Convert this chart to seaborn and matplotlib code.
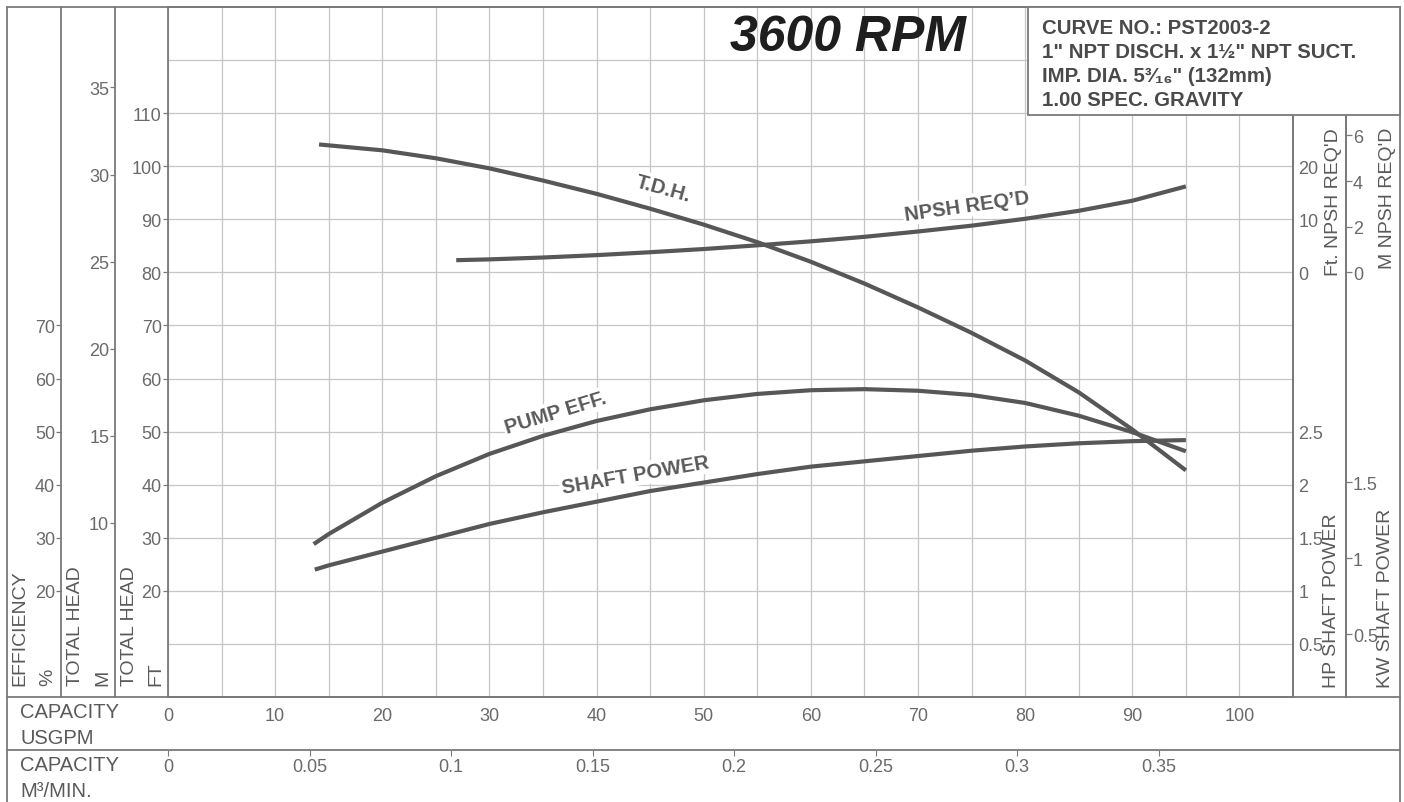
"""
Pump performance curve, PST2003-2 @ 3600 RPM.
T.D.H., NPSH req'd, pump efficiency and shaft power vs. capacity.
"""

import matplotlib
matplotlib.use("Agg")
import matplotlib.pyplot as plt
from matplotlib.lines import Line2D
from matplotlib.patches import Rectangle
import seaborn as sns

# ---- data --------------------------------------------------------------
gpm_tdh = [14.1, 20, 25, 30, 35, 40, 45, 50, 55, 60, 65, 70, 75, 80, 85, 90, 95]
tdh_ft = [104.1, 103.0, 101.5, 99.6, 97.3, 94.8, 92.0, 89.0, 85.7, 82.0,
          77.9, 73.4, 68.6, 63.4, 57.4, 50.4, 42.7]

gpm_npsh = [26.9, 30, 35, 40, 45, 50, 55, 60, 65, 70, 75, 80, 85, 90, 95]
npsh_ft = [2.3, 2.45, 2.8, 3.25, 3.8, 4.4, 5.1, 5.85, 6.7, 7.7, 8.8, 10.1,
           11.6, 13.5, 16.2]

gpm_eff = [13.6, 15, 20, 25, 30, 35, 40, 45, 50, 55, 60, 65, 70, 75, 80, 85, 90, 95]
eff_pct = [28.8, 30.7, 36.6, 41.6, 45.8, 49.2, 52.0, 54.2, 55.9, 57.1, 57.8,
           58.0, 57.7, 56.9, 55.4, 53.0, 49.9, 46.3]

gpm_hp = [13.7, 15, 20, 25, 30, 35, 40, 45, 50, 55, 60, 65, 70, 75, 80, 85, 90, 95]
shaft_hp = [1.20, 1.24, 1.37, 1.50, 1.63, 1.74, 1.84, 1.94, 2.02, 2.10, 2.17,
            2.22, 2.27, 2.32, 2.36, 2.39, 2.41, 2.42]

usgpm_ticks = [0, 10, 20, 30, 40, 50, 60, 70, 80, 90, 100]
m3min_ticks = [0, 0.05, 0.1, 0.15, 0.2, 0.25, 0.3, 0.35]
m3min_labels = ["0", "0.05", "0.1", "0.15", "0.2", "0.25", "0.3", "0.35"]
ft_ticks = [20, 30, 40, 50, 60, 70, 80, 90, 100, 110]
m_ticks = [10, 15, 20, 25, 30, 35]
eff_ticks = [20, 30, 40, 50, 60, 70]
npsh_ft_ticks = [0, 10, 20]
npsh_m_ticks = [0, 2, 4, 6]
hp_ticks = [0.5, 1, 1.5, 2, 2.5]
hp_labels = ["0.5", "1", "1.5", "2", "2.5"]
kw_ticks = [0.5, 1, 1.5]
kw_labels = ["0.5", "1", "1.5"]

info_lines = [
    "CURVE NO.: PST2003-2",
    "1\" NPT DISCH. x 1\u00bd\" NPT SUCT.",
    "IMP. DIA. 5\u00b3\u2044\u2081\u2086\" (132mm)",
    "1.00 SPEC. GRAVITY",
]

# ---- style ---------------------------------------------------------------
sns.set_theme(style="white")
plt.rcParams["font.family"] = ["Liberation Sans", "DejaVu Sans"]

CURVE = "#575757"
GRID = "#c6c6c6"
FRAME = "#7a7a7a"
TXT = "#5a5a5a"
TICK = "#6a6a6a"

W, H = 1404, 803


def fx(px):
    return px / W


def fy(py):
    return 1 - py / H


fig = plt.figure(figsize=(W / 100, H / 100), dpi=100)
fig.patch.set_facecolor("white")

# main grid area: x 168..1293 px, y 8..698 px
ax = fig.add_axes([fx(168), fy(698), (1293 - 168) / W, (698 - 8) / H])
ax.set_xlim(0, 105)
ax.set_ylim(0, 130)

for s in ax.spines.values():
    s.set_color(FRAME)
    s.set_linewidth(1.3)

ax.set_xticks(usgpm_ticks)
ax.set_xticks([t + 5 for t in usgpm_ticks], minor=True)
ax.tick_params(axis="x", which="both", length=0, pad=7.5,
               labelsize=13, labelcolor=TICK)
ax.set_yticks(ft_ticks)
ax.set_yticks([10, 120], minor=True)
ax.tick_params(axis="y", which="major", length=3.5, width=0.9, color=FRAME,
               pad=1, labelsize=13, labelcolor=TICK)
ax.tick_params(axis="y", which="minor", length=0)
ax.grid(True, which="both", color=GRID, linewidth=0.9)
ax.set_axisbelow(True)

# left columns: total head in metres, efficiency
sec_m = ax.secondary_yaxis(-0.0467, functions=(lambda f: f / 3.281,
                                                lambda m: m * 3.281))
sec_m.set_yticks(m_ticks)
sec_eff = ax.secondary_yaxis(-0.0947, functions=(lambda v: v, lambda v: v))
sec_eff.set_yticks(eff_ticks)
for sec in (sec_m, sec_eff):
    sec.spines["left"].set_color(FRAME)
    sec.spines["left"].set_linewidth(1.3)
    sec.tick_params(length=3.5, width=0.9, color=FRAME, pad=1,
                    labelsize=13, labelcolor=TICK)

# bottom row: capacity in m3/min
sec_x = ax.secondary_xaxis(-0.0768, functions=(lambda g: g / 264.17,
                                               lambda m: m * 264.17))
sec_x.set_xticks(m3min_ticks, labels=m3min_labels)
sec_x.spines["bottom"].set_visible(False)
sec_x.tick_params(length=4, width=0.8, color=FRAME, pad=2,
                  labelsize=13, labelcolor=TICK)

line_kw = dict(color=CURVE, linewidth=3, sort=False, estimator=None,
               solid_joinstyle="round", solid_capstyle="butt")

# curves on the main (ft / %) scale
sns.lineplot(x=gpm_tdh, y=tdh_ft, ax=ax, zorder=4, **line_kw)
sns.lineplot(x=gpm_eff, y=eff_pct, ax=ax, zorder=4, **line_kw)

# NPSH on its own scale (0 ft sits on the 80 ft grid line)
ax_npsh = ax.twinx()
ax_npsh.set_ylim(-80, 50)
sns.lineplot(x=gpm_npsh, y=npsh_ft, ax=ax_npsh, **line_kw)
ax_npsh.set_yticks(npsh_ft_ticks)
ax_npsh.tick_params(axis="y", length=0, pad=4, labelsize=13, labelcolor=TICK)

sec_npsh_m = ax_npsh.secondary_yaxis(1.0471, functions=(lambda f: f / 4.3,
                                                         lambda m: m * 4.3))
sec_npsh_m.set_yticks(npsh_m_ticks)

# shaft power on its own scale
ax_hp = ax.twinx()
ax_hp.set_ylim(0, 6.5)
sns.lineplot(x=gpm_hp, y=shaft_hp, ax=ax_hp, **line_kw)
ax_hp.set_yticks(hp_ticks, labels=hp_labels)
ax_hp.tick_params(axis="y", length=0, pad=4, labelsize=13, labelcolor=TICK)

sec_kw = ax_hp.secondary_yaxis(1.0471, functions=(lambda h: 0.7 * h + 0.085,
                                                   lambda k: (k - 0.085) / 0.7))
sec_kw.set_yticks(kw_ticks, labels=kw_labels)

for tw in (ax_npsh, ax_hp):
    tw.set_ylabel("")
    for name, s in tw.spines.items():
        s.set_visible(name == "right")
        s.set_color(FRAME)
        s.set_linewidth(1.3)
for sec in (sec_npsh_m, sec_kw):
    sec.spines["right"].set_color(FRAME)
    sec.spines["right"].set_linewidth(1.3)
    sec.tick_params(length=4, width=0.9, color=FRAME, pad=1,
                    labelsize=13, labelcolor=TICK)

# curve labels
lab = dict(fontsize=14.5, fontweight="bold", color=TXT, ha="center",
           va="center", rotation_mode="anchor", zorder=3,
           bbox=dict(facecolor="white", edgecolor="none", pad=1.5))
ax.text(46.2, 95.9, "T.D.H.", rotation=-15.5, **lab)
ax.text(74.6, 92.6, "NPSH REQ\u2019D", rotation=8, **lab)
ax.text(36.2, 53.6, "PUMP EFF.", rotation=17, **lab)
ax.text(43.6, 41.9, "SHAFT POWER", rotation=10, **lab)

# frame lines spanning the whole sheet
frame_lines = [
    ((7, 7), (8, 803)),
    ((1400, 1400), (8, 803)),
    ((7, 1400), (8, 8)),
    ((7, 1400), (698, 698)),
    ((7, 1400), (751, 751)),
]
for xs, ys in frame_lines:
    fig.add_artist(Line2D([fx(v) for v in xs], [fy(v) for v in ys],
                          color=FRAME, linewidth=1.3))

# info box (top right)
fig.add_artist(Rectangle((fx(1028), fy(115.7)), (1400 - 1028) / W,
                         (115.7 - 8) / H, facecolor="white",
                         edgecolor=FRAME, linewidth=1.3, zorder=5))
for line, py in zip(info_lines, [29, 53, 77, 100]):
    fig.text(fx(1042), fy(py), line, fontsize=14.7, fontweight="bold",
             color="#4a4a4a", ha="left", va="center", zorder=6,
             family=["Liberation Sans", "DejaVu Sans"])

fig.text(fx(848), fy(38), "3600 RPM", fontsize=36, fontweight="bold",
         fontstyle="italic", color="#1e1e1e", ha="center", va="center")

# column captions
side = dict(fontsize=14, color=TXT, rotation=90, ha="center")
fig.text(fx(20), fy(686), "EFFICIENCY", va="bottom", **side)
fig.text(fx(48), fy(686), "%", va="bottom", **side)
fig.text(fx(76), fy(686), "TOTAL HEAD", va="bottom", **side)
fig.text(fx(103), fy(686), "M", va="bottom", **side)
fig.text(fx(130), fy(686), "TOTAL HEAD", va="bottom", **side)
fig.text(fx(156), fy(686), "FT", va="bottom", **side)
fig.text(fx(1333), fy(128), "Ft. NPSH REQ'D", va="top", **side)
fig.text(fx(1388), fy(128), "M NPSH REQ'D", va="top", **side)
fig.text(fx(1332), fy(688), "HP SHAFT POWER", va="bottom", **side)
fig.text(fx(1386), fy(688), "KW SHAFT POWER", va="bottom", **side)

row = dict(fontsize=14.5, color=TXT, ha="left", va="center")
fig.text(fx(20), fy(713), "CAPACITY", **row)
fig.text(fx(20), fy(739), "USGPM", **row)
fig.text(fx(20), fy(766), "CAPACITY", **row)
fig.text(fx(20), fy(792), "M\u00b3/MIN.", **row)

plt.savefig("out.png", dpi=100)
